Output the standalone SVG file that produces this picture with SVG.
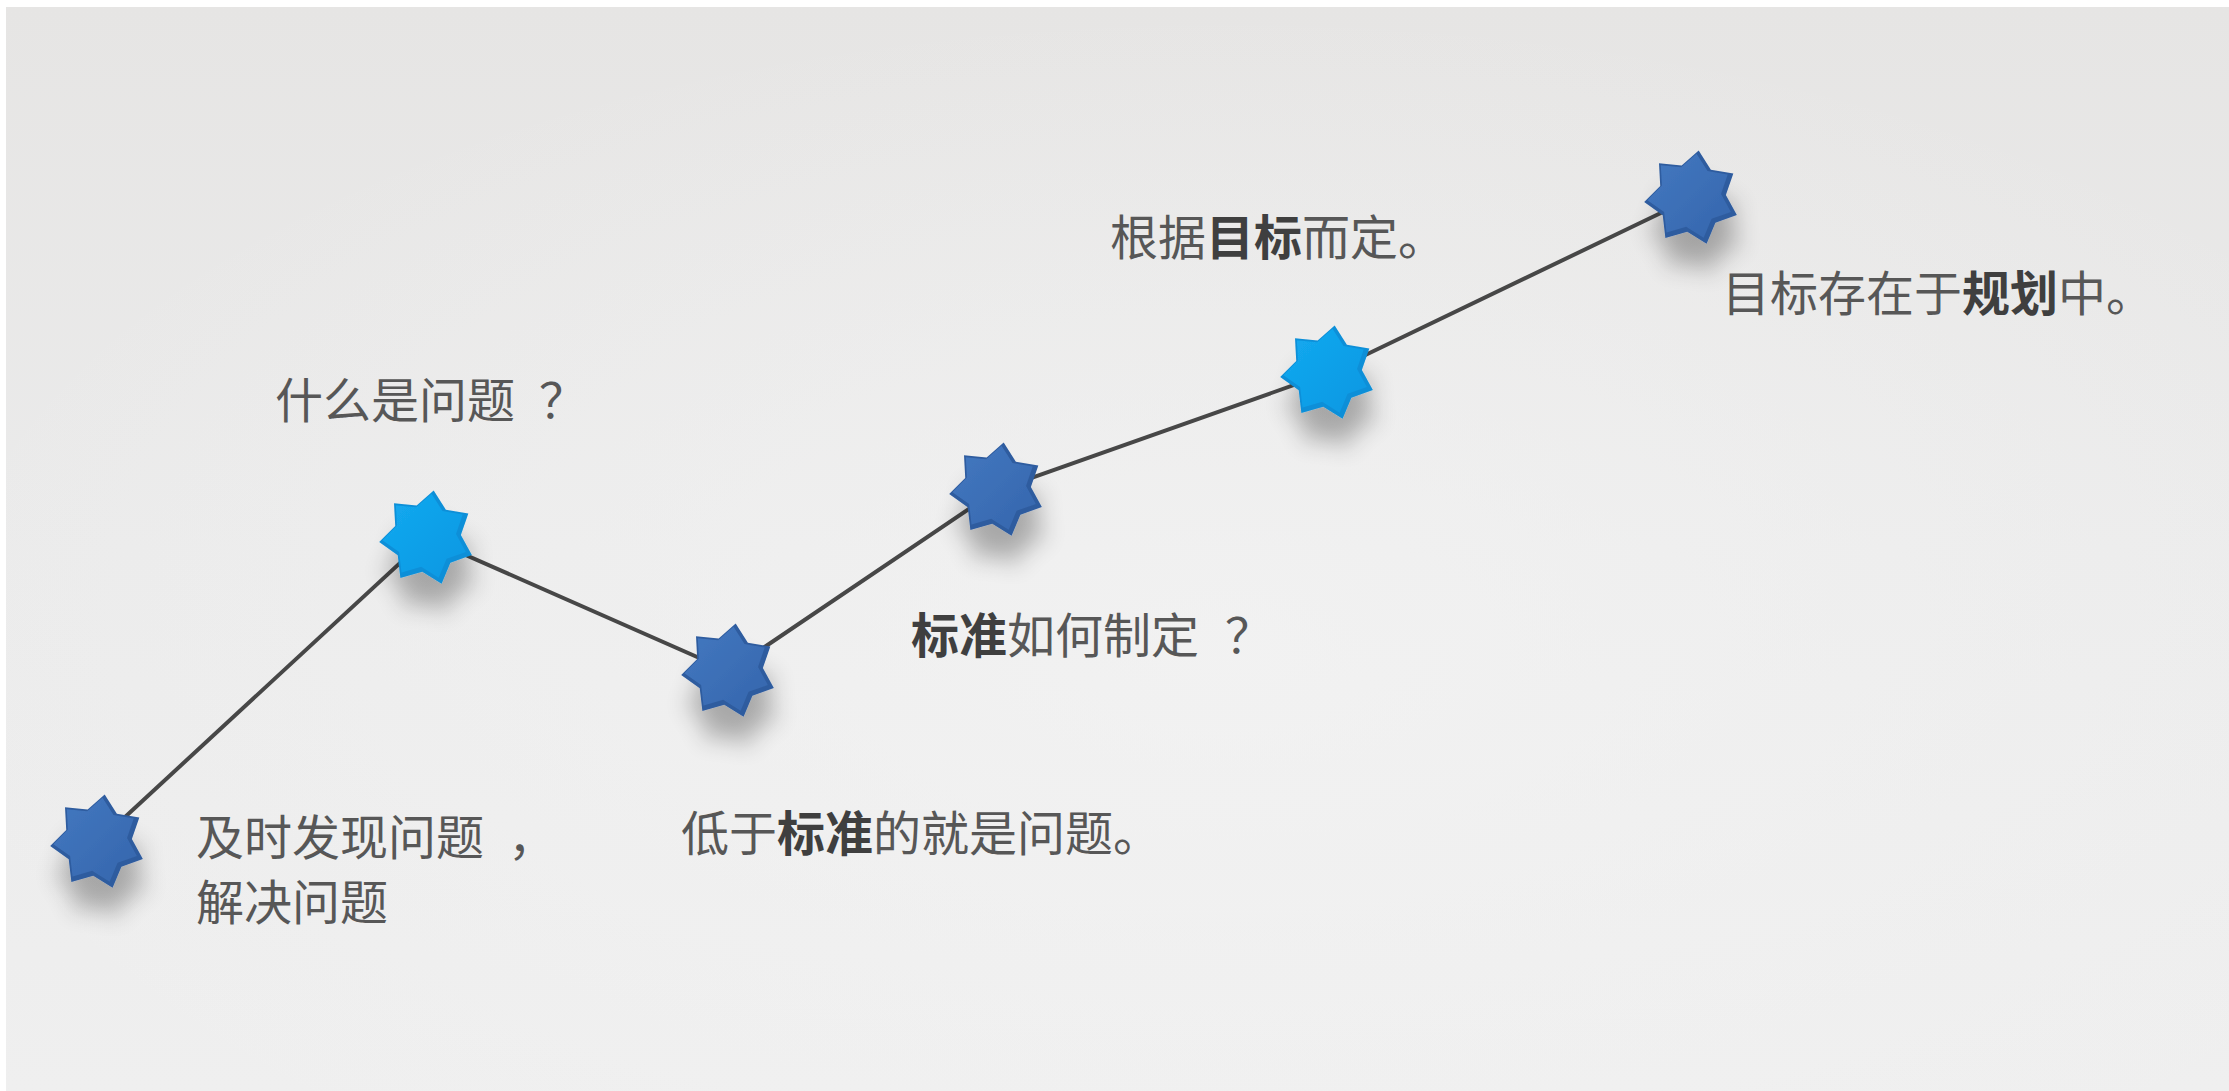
<svg xmlns="http://www.w3.org/2000/svg" xmlns:xlink="http://www.w3.org/1999/xlink" width="2229" height="1091" viewBox="0 0 2229 1091">
  <defs>
    <style>
      .lbl { font-family: "Noto Sans CJK SC", "Noto Sans", sans-serif; font-size: 48px; fill: #575757; text-spacing-trim: space-all; }
      .b { font-weight: bold; fill: #3f3f3f; }
      .conn { stroke: #474747; stroke-width: 4; fill: none; stroke-linecap: round; }
    </style>
    <linearGradient id="bg" x1="0" y1="0" x2="0" y2="1">
      <stop offset="0" stop-color="#e6e5e4"/>
      <stop offset="0.5" stop-color="#ebebeb"/>
      <stop offset="1" stop-color="#efefef"/>
    </linearGradient>
    <radialGradient id="bgGlow" cx="0.55" cy="0.6" r="0.6">
      <stop offset="0" stop-color="#f4f4f4" stop-opacity="0.7"/>
      <stop offset="1" stop-color="#f4f4f4" stop-opacity="0"/>
    </radialGradient>
    <linearGradient id="darkFace" x1="0" y1="0" x2="1" y2="1">
      <stop offset="0" stop-color="#4378c0"/>
      <stop offset="1" stop-color="#3566ad"/>
    </linearGradient>
    <linearGradient id="brightFace" x1="0" y1="0" x2="1" y2="1">
      <stop offset="0" stop-color="#14aaf0"/>
      <stop offset="1" stop-color="#0a97e2"/>
    </linearGradient>
    <filter id="shadow" x="-60%" y="-60%" width="220%" height="260%">
      <feGaussianBlur in="SourceAlpha" stdDeviation="12"/>
      <feOffset dx="4" dy="30" result="o"/>
      <feComponentTransfer><feFuncA type="linear" slope="0.3"/></feComponentTransfer>
      <feMerge><feMergeNode/><feMergeNode in="SourceGraphic"/></feMerge>
    </filter>
    <path id="star" d="M6.68,-47.53 L18.87,-28.28 L41.33,-24.41 L33.88,-2.88 L44.86,17.09 L23.38,24.69 L14.60,45.73 L-4.73,33.67 L-26.64,39.93 L-29.28,17.29 L-47.83,4.07 L-31.77,-12.11 L-33.00,-34.86 L-10.34,-32.39 Z"/>
    <g id="starDark" filter="url(#shadow)">
      <use xlink:href="#star" fill="#2e5c9f"/>
      <use xlink:href="#star" fill="url(#darkFace)" transform="translate(-1.5,-1.5) scale(0.9)"/>
    </g>
    <g id="starBright" filter="url(#shadow)">
      <use xlink:href="#star" fill="#0b8fd8"/>
      <use xlink:href="#star" fill="url(#brightFace)" transform="translate(-1.5,-1.5) scale(0.9)"/>
    </g>
  </defs>

  <rect x="0" y="0" width="2229" height="1091" fill="#ffffff"/>
  <rect x="6" y="7" width="2223" height="1084" fill="url(#bg)"/>
  <rect x="6" y="7" width="2223" height="1084" fill="url(#bgGlow)"/>

  <g id="connectors">
    <polyline class="conn" points="98,842 427,538 729,671 997,490 1328,373 1692,198"/>
  </g>

  <g id="node1">
    <use xlink:href="#starDark" transform="translate(98,842)"/>
    <text class="lbl" x="196" y="855">及时发现问题<tspan dx="24">，</tspan></text>
    <text class="lbl" x="196" y="920">解决问题</text>
  </g>
  <g id="node2">
    <use xlink:href="#starBright" transform="translate(427,538)"/>
    <text class="lbl" x="275" y="418">什么是问题<tspan dx="24">？</tspan></text>
  </g>
  <g id="node3">
    <use xlink:href="#starDark" transform="translate(729,671)"/>
    <text class="lbl" x="681" y="851">低于<tspan class="b">标准</tspan>的就是问题。</text>
  </g>
  <g id="node4">
    <use xlink:href="#starDark" transform="translate(997,490)"/>
    <text class="lbl" x="911" y="653"><tspan class="b">标准</tspan>如何制定<tspan dx="26">？</tspan></text>
  </g>
  <g id="node5">
    <use xlink:href="#starBright" transform="translate(1328,373)"/>
    <text class="lbl" x="1110" y="255">根据<tspan class="b">目标</tspan>而定。</text>
  </g>
  <g id="node6">
    <use xlink:href="#starDark" transform="translate(1692,198)"/>
    <text class="lbl" x="1722" y="311">目标存在于<tspan class="b">规划</tspan>中。</text>
  </g>
</svg>
